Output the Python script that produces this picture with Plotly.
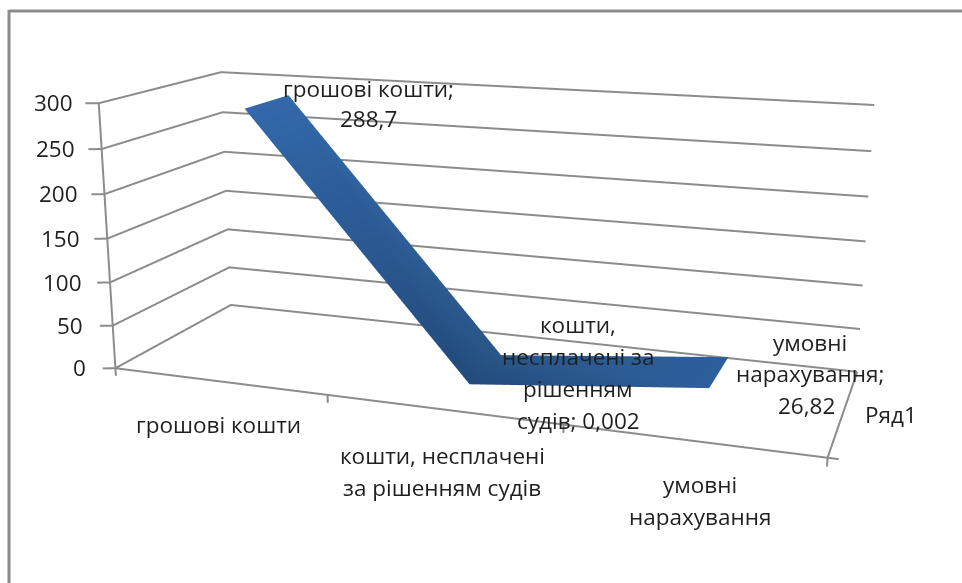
import math
import plotly.graph_objects as go

# Balance-sheet items and their amounts
categories = ["грошові кошти", "кошти, несплачені за рішенням судів", "умовні нарахування"]
values = [288.7, 0.002, 26.82]
value_text = ["288,7", "0,002", "26,82"]
axis_ticks = [0, 50, 100, 150, 200, 250, 300]
series_name = "Ряд1"

# The page is larger than the window so the scene keeps a long focal length;
# the plot div is moved so the visible window sits over the chart.
PAGE_W, PAGE_H = 2072, 1242
SHIFT_X, SHIFT_Y = 551, 381
FONT = dict(family="Open Sans, Noto Sans, sans-serif", size=22.5, color="#1f1f1f")
LINE = "#8c8c8c"
X_MAX, Y_MAX, Z_MAX = 3, 1, 300


def px(x):
    return (x + SHIFT_X) / PAGE_W


def py(y):
    return 1 - (y + SHIFT_Y) / PAGE_H


def text_at(x, y, s, anchor="center"):
    return dict(xref="paper", yref="paper", x=px(x), y=py(y), text=s, showarrow=False,
                xanchor=anchor, yanchor="middle", font=FONT)


def path(xv, yv, zv):
    return go.Scatter3d(x=xv, y=yv, z=zv, mode="lines", hoverinfo="skip", showlegend=False,
                        line=dict(color=LINE, width=4))


# Ribbon: two vertices (front and back edge) for each category
DEPTH_FRONT, DEPTH_BACK = 0.31, 0.71
xs, ys, zs = [], [], []
for i, v in enumerate(values):
    xs += [i + 0.5, i + 0.5]
    ys += [DEPTH_FRONT, DEPTH_BACK]
    zs += [v, v]
i_idx, j_idx, k_idx = [], [], []
for s in range(len(values) - 1):
    a = 2 * s
    i_idx += [a, a + 1]
    j_idx += [a + 1, a + 3]
    k_idx += [a + 2, a + 2]
ribbon_colors = ["#3368aa", "#3368aa", "#224a7a", "#2a5789", "#2d5f9c", "#2d5f9c"]

traces = []
# Gridlines along the left and back walls
for t in axis_ticks:
    traces.append(path([0, 0, X_MAX], [0, Y_MAX, Y_MAX], [t, t, t]))
    traces.append(path([-0.05, 0], [-0.02, 0], [t, t]))  # value tick
# Axis edges
traces.append(path([0, 0], [0, 0], [0, Z_MAX]))
traces.append(path([0, X_MAX], [0, 0], [0, 0]))
traces.append(path([X_MAX, X_MAX], [0, Y_MAX], [0, 0]))
# Category ticks
for c in range(len(categories) + 1):
    traces.append(path([c, c], [0, 0], [0, -9]))
traces.append(path([X_MAX, X_MAX + 0.04], [0, 0], [0, 0]))
traces.append(go.Mesh3d(
    x=xs, y=ys, z=zs, i=i_idx, j=j_idx, k=k_idx,
    vertexcolor=ribbon_colors, flatshading=False,
    lighting=dict(ambient=1, diffuse=0, specular=0, roughness=1, fresnel=0),
    hoverinfo="skip", showscale=False,
))
fig = go.Figure(traces)

yaw, pitch, dist = math.radians(19.5), math.radians(14), 1.96
eye = dict(x=dist * math.cos(pitch) * math.sin(yaw),
           y=-dist * math.cos(pitch) * math.cos(yaw),
           z=dist * math.sin(pitch))

hidden = dict(visible=False)
fig.update_layout(
    width=PAGE_W, height=PAGE_H, autosize=False,
    margin=dict(l=0, r=0, t=0, b=0),
    paper_bgcolor="white",
    showlegend=False,
    scene=dict(
        aspectmode="manual", aspectratio=dict(x=1.002, y=0.336, z=0.382),
        camera=dict(eye=eye, center=dict(x=0, y=0, z=0), up=dict(x=0, y=0, z=1),
                    projection=dict(type="perspective")),
        xaxis=dict(hidden, range=[-0.1, X_MAX + 0.1]),
        yaxis=dict(hidden, range=[-0.03, Y_MAX + 0.03]),
        zaxis=dict(hidden, range=[-10, Z_MAX + 10]),
    ),
)

# Axis labels, category labels and data labels
tick_y = [367, 325, 282, 238, 193, 148, 103]
tick_right = [88, 85, 84, 82, 80, 77, 75]
notes = [text_at(r, y, str(t), "right") for t, y, r in zip(axis_ticks, tick_y, tick_right)]
notes += [text_at(218, 424, categories[0])]
notes += [text_at(442, 455, "кошти, несплачені"), text_at(442, 487, "за рішенням судів")]
notes += [text_at(700, 484, "умовні"), text_at(700, 516, "нарахування")]
notes += [text_at(891, 414, series_name)]
notes += [text_at(368, 88, categories[0] + ";"), text_at(368, 118, value_text[0])]
notes += [text_at(578, 324, "кошти,"), text_at(578, 356, "несплачені за"),
          text_at(578, 388, "рішенням"), text_at(578, 420, "судів; " + value_text[1])]
notes += [text_at(810, 342, "умовні"), text_at(810, 373, "нарахування;"),
          text_at(806, 405, value_text[2])]
fig.update_layout(annotations=notes)

# Chart frame: top and left edges
fig.update_layout(shapes=[
    dict(type="line", xref="paper", yref="paper", x0=px(9), x1=px(962), y0=py(11), y1=py(11),
         line=dict(color="#8c8c8c", width=3)),
    dict(type="line", xref="paper", yref="paper", x0=px(9), x1=px(9), y0=py(10), y1=py(583),
         line=dict(color="#8c8c8c", width=3)),
])

shift_js = f"""
var gd = document.getElementById('{{plot_id}}');
gd.style.position = 'fixed';
gd.style.left = '{-SHIFT_X}px';
gd.style.top = '{-SHIFT_Y}px';
gd.style.width = '{PAGE_W}px';
gd.style.height = '{PAGE_H}px';
document.documentElement.style.overflow = 'hidden';
document.body.style.overflow = 'hidden';
"""
fig.write_html("out.html", post_script=shift_js)
